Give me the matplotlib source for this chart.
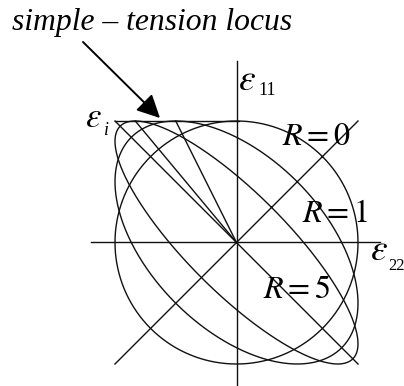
import numpy as np
import matplotlib
matplotlib.use("Agg")
import matplotlib.pyplot as plt

plt.rcParams["mathtext.fontset"] = "stix"

# Normal anisotropy values of the three loci and the simple-tension strain
r_values = [0, 1, 5]
r_labels = ["$R = 0$", "$R = 1$", "$R = 5$"]
eps_i = 1.0

# Figure geometry: origin at pixel (236.5, 242.5), 121.5 px per unit strain
W, H, DPI = 404, 386, 100
OX, OY, S = 236.5, 242.5, 121.5


def px(x, y):
    """Pixel position -> strain coordinates."""
    return (x - OX) / S, (OY - y) / S


fig = plt.figure(figsize=(W / DPI, H / DPI), dpi=DPI)
ax = fig.add_axes([0, 0, 1, 1])
ax.set_xlim(-OX / S, (W - OX) / S)
ax.set_ylim(-(H - OY) / S, OY / S)
ax.axis("off")

lc = "#111111"
lw = 1.0

# Coordinate axes eps22 (horizontal) and eps11 (vertical)
ax.plot([-1.2, 1.18], [0, 0], color=lc, lw=lw)
ax.plot([0, 0], [-1.2, 1.49], color=lc, lw=lw)

# Equibiaxial and pure-shear diagonals
ax.plot([-eps_i, eps_i], [-eps_i, eps_i], color=lc, lw=lw)
ax.plot([-eps_i, eps_i], [eps_i, -eps_i], color=lc, lw=lw)

# Simple-tension locus: eps11 = eps_i
ax.plot([-eps_i, 0.02], [eps_i, eps_i], color=lc, lw=lw)

# Hill strain loci: e22^2 + e11^2 + 2k e11 e22 = eps_i^2 (1 - k^2), k = R/(1+R)
t = np.linspace(0, 2 * np.pi, 721)
for R in r_values:
    k = R / (1.0 + R)
    a = eps_i * np.sqrt(1 - k)   # semi-axis along the equibiaxial diagonal
    b = eps_i * np.sqrt(1 + k)   # semi-axis along the pure-shear diagonal
    u = a * np.cos(t)
    v = b * np.sin(t)
    x = (u - v) / np.sqrt(2)
    y = (u + v) / np.sqrt(2)
    ax.plot(x, y, color=lc, lw=lw)
    # strain path of simple tension: e22 = -k e11
    if R > 0:
        ax.plot([0, -k * eps_i], [0, eps_i], color=lc, lw=lw)

# R labels
label_pos = [(282, 145), (302, 222), (263, 298)]
for lab, (lx, ly) in zip(r_labels, label_pos):
    ax.text(*px(lx, ly), lab, fontsize=23, ha="left", va="baseline", color="black")


# Strain symbols
def eps_label(x, y, sub, sx, sy, size=27, subsize=13):
    ax.text(*px(x, y), r"$\varepsilon$", fontsize=size, ha="left", va="baseline", color="black")
    ax.text(*px(sx, sy), sub, fontsize=subsize, ha="left", va="baseline",
            family="Liberation Serif", style="italic" if sub == "i" else "normal",
            color="black")


eps_label(238, 90, "11", 258, 95)
eps_label(85, 127, "i", 104, 135, size=25)
eps_label(370, 260, "22", 388, 270, subsize=12)

# Annotation arrow
ax.text(*px(12, 30), "simple \u2013 tension locus", fontsize=22.8, family="Liberation Serif",
        style="italic", ha="left", va="baseline", color="black")
ax.annotate("", xy=px(160, 118), xytext=px(83, 42),
            arrowprops=dict(arrowstyle="-|>,head_length=1.4,head_width=0.7",
                            color="black", lw=1.4, shrinkA=0, shrinkB=0))

fig.savefig("out.png", dpi=DPI)
